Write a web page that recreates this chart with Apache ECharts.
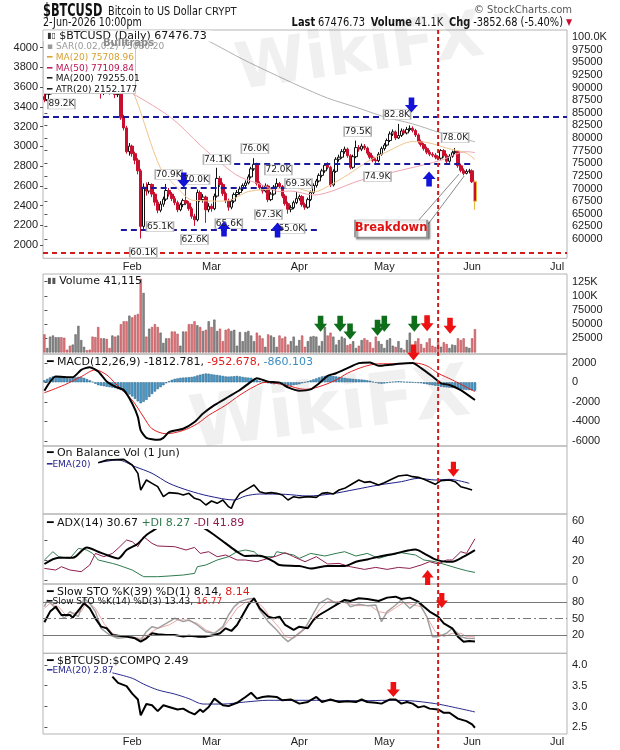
<!DOCTYPE html>
<html><head><meta charset="utf-8">
<script src="https://cdn.jsdelivr.net/npm/echarts@6/dist/echarts.min.js"></script>
<style>html,body{margin:0;padding:0;background:#fff}#c{width:620px;height:750px}</style>
</head><body><div id="c"></div>
<script>
// ---- axis / calendar ----
const monthNames = ['Feb','Mar','Apr','May','Jun','Jul'];
const monthStartDays = [31,59,90,120,151,181];           // day index from 1-Jan-2026
const mainPriceTicks = [60000,62500,65000,67500,70000,72500,75000,77500,80000,82500,85000,87500,90000,92500,95000,97500,100000];
const mainLeftTicks = [2000,2200,2400,2600,2800,3000,3200,3400,3600,3800,4000];
const volumeTicks = [25000,50000,75000,100000,125000];
const macdTicks = [-6000,-4000,-2000,0,2000];
const adxTicks = [0,20,40,60];
const stoTicks = [20,50,80];
const ratioTicks = [2.5,3.0,3.5,4.0];

// ---- daily BTC candles (thousands USD), 1-Jan .. 2-Jun ----
const opens = [88.2,87.6,88.7,90.0,90.6,91.4,93.8,93.7,91.3,91.0,90.5,90.8,91.1,91.4,95.3,96.9,95.6,95.5,95.1,93.6,92.5,89.0,89.8,89.6,89.5,89.8,88.6,88.9,84.0,82.0,77.3,78.4,76.9,75.6,73.5,62.5,70.3,69.5,70.8,68.9,67.3,65.7,66.9,67.9,69.6,68.9,68.0,67.2,65.8,66.8,67.6,67.1,66.0,64.5,63.8,69.2,67.8,68.3,65.8,66.5,66.0,68.5,72.0,70.8,69.0,67.6,66.3,67.5,68.8,69.2,69.9,70.6,71.1,72.3,73.9,74.8,71.0,70.2,69.5,70.5,67.8,68.9,70.3,71.0,70.4,68.5,67.0,65.9,66.2,67.2,68.0,68.4,66.8,66.3,67.8,69.2,70.6,71.5,72.6,73.5,74.6,74.2,70.7,73.4,75.8,76.2,77.3,77.8,76.5,74.2,76.3,78.1,77.8,78.4,78.0,77.0,76.2,75.6,75.5,76.8,77.9,78.6,79.5,80.8,81.2,80.0,80.5,81.4,81.0,81.7,81.9,81.5,80.6,79.3,78.7,77.9,77.2,76.8,76.6,76.2,76.0,77.5,76.5,75.4,76.4,77.1,77.3,74.5,73.6,73.0,73.4,73.5,71.33];
const highs = [88.9,89.2,90.4,91.1,91.9,94.5,94.8,94.0,91.8,91.5,91.3,91.7,92.0,95.8,97.8,97.2,96.1,95.9,95.4,94.0,92.8,90.3,90.2,90.1,90.4,90.0,89.6,89.4,84.6,82.4,79.0,78.7,77.3,76.0,73.9,71.0,71.2,71.3,71.0,69.3,67.8,67.5,68.4,70.9,70.1,69.3,68.5,67.6,67.2,68.0,70.0,67.5,66.4,65.0,69.8,69.6,68.9,68.6,67.1,67.0,69.0,74.1,72.5,71.2,69.4,68.0,67.9,69.2,69.7,70.4,71.0,71.6,72.8,74.3,76.0,75.1,71.4,70.6,71.0,70.8,69.3,70.7,72.0,71.3,70.7,68.9,67.4,66.7,67.6,69.3,68.8,68.7,67.2,68.2,69.6,71.0,71.9,73.0,73.9,75.0,75.2,74.5,73.8,76.2,76.7,77.8,78.3,78.1,76.8,76.7,79.5,78.6,78.9,78.8,78.3,77.3,76.6,76.0,77.2,78.3,79.0,79.9,81.3,81.7,81.5,82.8,81.9,81.8,82.2,82.5,82.3,81.8,80.9,79.7,79.0,78.3,77.6,77.2,77.0,76.6,77.8,77.8,76.9,76.8,77.5,78.0,77.5,74.9,74.0,73.8,73.9,73.8,71.6];
const lows = [87.1,87.3,88.5,89.6,90.2,91.0,93.0,90.9,90.2,89.2,90.0,90.3,90.6,91.2,95.0,95.1,94.9,94.6,93.1,92.0,87.8,88.5,88.9,88.6,89.0,87.9,88.1,83.6,81.5,76.9,76.5,76.3,74.8,72.8,60.1,62.0,68.6,69.0,68.3,66.6,65.1,65.3,66.4,67.5,68.4,67.5,66.7,65.3,65.5,66.3,66.7,65.6,64.0,62.6,63.5,67.3,67.2,63.2,65.3,65.4,65.7,68.2,70.3,68.5,67.1,65.6,65.9,67.1,68.3,68.8,69.5,70.2,70.8,72.0,73.5,70.6,69.8,69.0,69.2,67.3,67.5,68.6,69.9,70.0,68.1,66.6,65.0,65.3,65.9,66.9,67.6,66.4,65.8,66.0,67.5,68.9,70.2,71.2,72.2,73.1,73.8,70.3,70.4,73.1,75.3,75.9,76.9,76.1,73.8,73.9,76.0,77.3,77.4,77.6,76.6,75.8,75.2,74.9,75.2,76.5,77.5,78.3,79.2,80.4,79.6,79.8,80.2,80.6,80.7,81.3,81.1,80.2,78.9,78.3,77.5,76.8,76.4,76.2,75.8,75.6,75.7,76.1,74.7,75.1,76.1,76.8,74.1,73.2,72.6,72.8,73.0,71.1,65.8];
const closes = [87.6,88.7,90.0,90.6,91.4,93.8,93.7,91.3,91.0,90.5,90.8,91.1,91.4,95.3,96.9,95.6,95.5,95.1,93.6,92.5,89.0,89.8,89.6,89.5,89.8,88.6,88.9,84.0,82.0,77.3,78.4,76.9,75.6,73.5,62.5,70.3,69.5,70.8,68.9,67.3,65.7,66.9,67.9,69.6,68.9,68.0,67.2,65.8,66.8,67.6,67.1,66.0,64.5,63.8,69.2,67.8,68.3,65.8,66.5,66.0,68.5,72.0,70.8,69.0,67.6,66.3,67.5,68.8,69.2,69.9,70.6,71.1,72.3,73.9,74.8,71.0,70.2,69.5,70.5,67.8,68.9,70.3,71.0,70.4,68.5,67.0,65.9,66.2,67.2,68.0,68.4,66.8,66.3,67.8,69.2,70.6,71.5,72.6,73.5,74.6,74.2,70.7,73.4,75.8,76.2,77.3,77.8,76.5,74.2,76.3,78.1,77.8,78.4,78.0,77.0,76.2,75.6,75.5,76.8,77.9,78.6,79.5,80.8,81.2,80.0,80.5,81.4,81.0,81.7,81.9,81.5,80.6,79.3,78.7,77.9,77.2,76.8,76.6,76.2,76.0,77.5,76.5,75.4,76.4,77.1,77.3,74.5,73.6,73.0,73.4,73.5,71.33,67.48];
// volume, thousands
const volumes = [32,8,28,30,27,27,27,26,5,12,14,32,47,22,10,4,5,28,27,45,25,25,24,8,30,28,30,50,55,55,65,62,66,68,130,105,28,42,45,50,45,35,17,25,25,37,37,33,12,37,37,50,50,55,48,45,38,40,55,45,58,38,42,20,40,42,38,40,12,36,20,36,38,30,20,35,30,25,10,32,30,27,10,30,25,28,14,20,28,12,22,30,10,20,28,29,28,12,20,45,30,35,28,14,22,28,25,13,15,20,8,12,22,25,22,18,8,28,20,15,8,22,25,12,10,20,8,5,22,35,10,20,25,15,8,18,25,12,10,20,10,18,15,8,14,13,25,22,25,10,8,25,41.115];

// moving averages (thousands USD) read at sample days
const ma20Days = [0,10,20,27,30,32,41,47,52,55,60,65,72,83,87,95,101,107,114,121,130,136,142,149,152];
const ma20Values = [89.0,89.6,91.8,91.3,89.6,88.2,74.0,70.1,67.7,67.6,67.5,67.6,69.4,70.0,70.3,69.3,70.7,72.7,75.3,77.3,79.3,79.0,78.0,77.0,75.71];
const ma50Days = [0,15,25,31,45,55,63,69,77,83,87,95,112,134,140,149,152];
const ma50Values = [89.8,90.2,90.4,88.85,83.9,78.6,74.7,72.3,70.7,69.4,69.5,68.7,71.7,74.7,75.6,77.3,77.11];
const ma200Days = [40,50,55,60,70,80,90,100,110,120,130,140,152];
const ma200Values = [104.0,101.2,100.0,98.6,95.6,92.9,90.3,87.9,86.1,84.2,82.8,81.0,79.26];

// MACD
const macdDays = [0,4,10,13,16,19,22,25,28,31,33,34,36,40,42,44,49,53,56,60,65,69,73,75,79,83,86,90,94,97,100,103,107,111,115,118,122,125,130,133,137,140,143,147,152];
const macdValues = [-862,586,517,1276,1552,1104,69,-448,-793,-2173,-3553,-4933,-5692,-5900,-5692,-5106,-4761,-4071,-3208,-2346,-1483,-793,69,414,69,-35,-517,-862,-724,-104,655,931,1449,1966,2035,1690,1794,1897,1966,1449,586,-104,-276,-793,-1813];
const signalDays = [0,7,13,18,22,25,31,35,38,43,49,54,58,64,69,74,78,85,92,97,103,107,113,118,125,131,135,139,144,152];
const signalValues = [-1070,-276,586,1276,759,-104,-1829,-3553,-4761,-5279,-4933,-4244,-3381,-2346,-1311,-449,0,-276,-724,-449,242,931,1621,1897,1897,1966,1690,931,242,-953];
const histValues = [200,350,500,600,620,600,550,450,400,380,420,500,560,540,450,330,200,50,-150,-300,-350,-400,-450,-500,-550,-600,-700,-800,-950,-1100,-1250,-1450,-1700,-1950,-2150,-2000,-1800,-1500,-1200,-950,-700,-500,-300,-100,100,250,350,400,450,480,500,520,550,600,700,780,850,900,880,820,780,750,700,650,600,580,600,620,650,600,550,500,480,450,350,250,150,50,-50,-100,-150,-200,-150,-100,-200,-250,-300,-350,-300,-250,-200,-100,0,100,200,300,400,500,600,650,680,700,650,600,550,500,450,400,380,350,320,300,280,250,200,150,50,-50,-120,-150,-120,-80,0,50,80,100,80,50,20,0,-20,-50,-80,-100,-150,-200,-250,-300,-350,-400,-450,-500,-520,-550,-580,-600,-650,-700,-750,-780,-800,-830,-860];

// On Balance Volume (relative units) and its EMA
const obvDays = [19,22,28,31,33,34,36,38,40,42,44,47,49,51,53,55,57,59,61,63,65,66,67,69,72,74,76,78,80,82,84,86,88,90,93,96,98,100,102,104,106,108,111,113,115,118,120,122,125,128,130,132,134,136,138,140,143,145,147,149,151];
const obvValues = [154,162,164,147,122,72,102,92,82,52,64,62,57,62,47,42,27,39,32,42,22,17,37,62,77,87,67,62,64,62,57,42,52,49,52,50,62,64,60,72,77,87,102,95,97,87,94,102,114,117,112,110,104,97,89,100,102,97,82,77,72];
const obvEmaDays = [19,26,32,38,44,51,58,67,71,76,85,93,101,110,118,126,132,138,143,150];
const obvEmaValues = [154,162,142,122,92,70,54,42,54,60,59,54,60,74,87,97,107,102,104,92];

// ADX
const adxDays = [0,5,10,15,19,22,26,29,33,36,40,44,48,51,56,60,64,68,71,76,81,83,90,94,100,106,110,114,118,124,128,131,134,138,142,144,148,152];
const adxValues = [16.7,23,23,33.3,29,25.7,22.3,30.7,37,45.7,53,60,63,58,53,45.7,37.3,29,24.7,25,19,15.7,14.7,12.3,14.7,14.7,19,21.3,24,27.3,30,31.3,27.3,21.3,19,19,24,30.67];
const pdiDays = [0,3,5,9,12,15,17,19,24,26,31,35,40,44,49,53,54,57,61,65,68,71,74,76,81,82,88,90,94,99,103,106,110,114,118,122,126,131,134,138,142,146,149,152];
const pdiValues = [20.7,29,24,22.3,32.3,30.7,27.3,20.7,17.3,15.7,10.7,4,4,4.7,5.7,7.3,14,15.7,20.7,24,29,30.7,29,24,24,29,25.7,22.3,27.3,24.7,27.3,29,24.7,27.3,22.3,25.7,28,25.7,20.7,19,15.7,12.3,10,8.27];
const mdiDays = [0,4,6,9,13,16,18,21,24,26,29,31,33,35,38,40,46,50,53,55,58,61,64,68,71,75,79,82,85,88,92,96,100,104,108,113,117,121,125,129,133,136,139,142,144,147,149,152];
const mdiValues = [12.3,10.7,14,10.7,9,15.7,27.3,24,27.3,32.3,40.7,39,34,44,37.3,34.7,34,30.7,33.3,27.3,29,24,25.7,20.7,20.7,19,22.3,24.7,28,24,19,24,16.7,17.3,14,11.3,13.3,11.3,13.3,12.3,15.7,19,16.7,20.7,20.7,29,27.3,41.89];

// Slow stochastics
const sto39Days = [0,2,4,6,9,10,14,16,18,20,22,24,26,29,32,34,36,38,40,43,46,49,51,54,57,60,62,64,66,68,70,72,74,76,79,81,83,85,88,90,93,95,97,100,103,106,108,111,114,118,121,124,126,129,132,134,136,139,141,144,146,148,150,152];
const sto39Values = [43.3,62.9,72,56.7,56.7,51.9,78.2,69,50.6,35.3,32.3,20,18.8,17,13.9,7.8,13.9,23.1,21.2,20,20,17,18.8,17,17,20,23.1,32.3,27.4,38.4,56.7,75.1,87.3,69,53.7,50.6,53.7,38.4,29.2,35.3,32.3,47.6,56.7,65.9,75.1,84.3,82.4,87.3,86.1,82.4,88.6,90.4,86.1,88.6,81.2,72,62.9,53.7,41.4,32.3,17,7.8,9,8.14];
const sto14Days = [0,1,4,7,9,12,14,16,18,20,23,26,31,34,36,38,40,43,46,49,51,54,57,60,63,65,67,69,72,74,76,79,82,84,86,89,92,94,97,100,103,106,108,111,114,117,119,121,124,126,129,132,135,137,139,142,144,147,149,152];
const sto14Values = [72,84.3,69,50.6,62.9,53.7,87.3,78.2,62.9,32.3,20,13.9,17,10.8,26.1,35.3,32.3,41.4,50.6,44.5,47.6,38.4,26.1,23.1,35.3,56.7,72,81.2,86.1,87.3,65.9,44.5,29.2,17,7.8,20,32.3,50.6,78.2,87.3,78.2,84.3,72,76.3,73.9,75.1,44.5,62.9,75.1,84.3,69,81.2,53.7,17,17,23.1,32.3,17,13.9,13.43];
const stoDDays = [0,2,5,8,10,13,15,18,21,24,27,31,35,38,40,44,47,50,54,57,60,63,66,68,71,74,77,80,83,85,88,91,94,97,100,104,107,110,115,118,121,124,127,130,133,135,138,141,144,147,149,152];
const stoDValues = [69,78.2,72,53.7,59.8,62.9,81.2,69,41.4,23.1,17,15.1,13.9,26.1,32.3,38.4,47.6,47.6,41.4,29.2,23.1,32.3,53.7,69,80,84.3,72,50.6,32.3,17,13.9,26.1,41.4,65.9,81.2,81.2,78.2,73.9,73.9,62.9,59.8,70.2,80,75.1,72,53.7,26.1,17,23.1,23.1,17,16.77];

// $BTCUSD:$COMPQ ratio
const ratioDays = [24,26,29,31,33,34,36,38,40,42,44,47,49,51,53,55,56,58,60,63,65,68,71,73,75,77,79,82,84,87,90,93,96,98,101,104,107,110,112,114,117,119,122,124,126,128,130,132,134,136,139,141,143,146,149,151,152];
const ratioValues = [3.72,3.57,3.49,3.31,3.17,2.79,3.06,3.03,2.89,3.03,2.99,2.93,2.95,2.87,2.81,2.93,2.87,2.99,3.19,3.03,3.01,3.09,3.23,3.33,3.19,3.23,3.25,3.23,3.15,3.17,3.07,3.11,3.23,3.11,3.17,3.11,3.13,3.11,3.17,3.11,3.09,3.07,3.17,3.17,3.07,3.11,3.07,2.98,3.01,2.95,2.93,2.85,2.85,2.71,2.65,2.57,2.49];
const ratioEmaDays = [24,31,35,40,46,51,56,63,71,79,88,96,104,113,121,129,138,144,152];
const ratioEmaValues = [3.81,3.68,3.54,3.40,3.30,3.19,3.06,3.06,3.11,3.15,3.15,3.15,3.14,3.14,3.15,3.14,3.07,2.99,2.87];

// annotations
const priceLabelText = ['89.2K','82.8K','79.5K','78.0K','74.9K','76.0K','74.1K','72.0K','70.9K','70.0K','69.3K','67.3K','65.1K','65.6K','65.0K','62.6K','60.1K'];
const priceLabelDay = [6,124.5,110.6,145,117.6,74.3,60.9,82.6,43.9,53.5,89.7,79.1,40.8,65.1,87.1,53,34.9];
const priceLabelAt = [86.73,84.65,81.29,80.10,72.38,77.92,75.74,73.67,72.78,71.79,70.99,64.86,62.48,63.07,62.08,59.9,57.39];
const blueArrowDay = [129.6,49.2,63.4,82.3,135.8];
const blueArrowAt = [86.54,71.69,61.98,61.79,71.88];
const blueArrowDir = ['down','down','up','up','up'];
const levelLines = [ // [fromDay, toDay, price], blue dashed
  [-0.5,184.5,84200],[67,151,74900],[34,87,70150],[27,97,61900]];
const redLevel = 57250;
const redLineDay = 139;
const volGreenArrowDay = [97.5,104.4,107.9,117.6,120,130.6];
const volGreenArrowAt = [50.6,50.6,37,43.6,50.6,50.6];
const volRedArrowDay = [135.1,143.2,130.3];
const volRedArrowAt = [51.5,47,0];

// ---------------- build ----------------
const FONT = 'DejaVu Sans';
const AXFONT = 'Liberation Sans, Arial, sans-serif';
const NARROW = 'Liberation Sans Narrow, DejaVu Sans Condensed, Arial Narrow, sans-serif';
const XMIN = -0.5, XMAX = 184.5;
const pair = (d, v, k) => d.map((x, i) => [x, v[i] * (k || 1)]);
const arrowPath = 'path://M4,0L10,0L10,8L14,8L7,16L0,8L4,8Z';

const gridDefs = [
  [30, 228.3], [274, 80], [354, 92], [446, 68], [514, 70], [584, 69.3], [653.3, 80.7]
];
const grids = gridDefs.map(g => ({left: 43, right: 53, top: g[0], height: g[1], show: true,
  borderColor: '#b4b4b4', borderWidth: 1, backgroundColor: 'transparent', containLabel: false, outerBoundsMode: 'none'}));

function xAx(gi, labels, margin) {
  return {type: 'value', gridIndex: gi, min: XMIN, max: XMAX,
    axisLine: {show: false}, axisTick: {show: false}, splitLine: {show: false},
    axisLabel: labels ? {show: true, customValues: monthStartDays, margin: margin,
      formatter: v => monthNames[monthStartDays.indexOf(v)] || '',
      fontSize: 11, fontFamily: AXFONT, color: '#222'} : {show: false}};
}
function yAx(gi, min, max, ticks, fmt, pos) {
  return {type: 'value', gridIndex: gi, min: min, max: max, position: pos || 'right',
    axisLine: {show: false}, splitLine: {show: false},
    axisTick: ticks ? {show: true, customValues: ticks, length: 3, lineStyle: {color: '#555'}} : {show: false},
    axisLabel: ticks ? {show: true, customValues: ticks, formatter: fmt || (v => String(v)), margin: 5,
      fontSize: 11, fontFamily: AXFONT, color: '#222'} : {show: false}};
}

const candleData = closes.map((c, i) => {
  const item = {value: [i, opens[i] * 1000, c * 1000, lows[i] * 1000, highs[i] * 1000]};
  if (i === closes.length - 1) item.itemStyle = {borderColor0: '#e6b83a'};
  return item;
});
const volData = volumes.map((v, i) => ({value: [i, v * 1000],
  itemStyle: closes[i] >= opens[i] ? {color: '#8c8c8c', borderColor: '#4a4a4a'} : {color: '#e07c80', borderColor: '#a83a40'}}));
const histData = histValues.map((v, i) => [i, v]);

const lineS = (name, xi, yi, data, color, width, extra) => Object.assign({
  name: name, type: 'line', xAxisIndex: xi, yAxisIndex: yi, data: data, showSymbol: false, symbol: 'none',
  lineStyle: {color: color, width: width}, silent: true, animation: false, z: 3}, extra || {});

function arrowItem(day, val, dir, color, size) {
  return {coord: [day, val], symbol: arrowPath, symbolSize: size || [12, 15], symbolRotate: dir === 'up' ? 180 : 0,
    itemStyle: {color: color}, label: {show: false}};
}

const mainMarkPoints = priceLabelText.map((t, i) => ({
  coord: [priceLabelDay[i], priceLabelAt[i] * 1000], value: t, symbol: 'rect', symbolSize: [27, 10],
  itemStyle: {color: '#fff', borderColor: '#b0b0b0', borderWidth: 1},
  label: {show: true, position: 'inside', formatter: t, fontSize: 9, fontFamily: FONT, color: '#222'}
})).concat(blueArrowDay.map((d, i) => arrowItem(d, blueArrowAt[i] * 1000, blueArrowDir[i], '#1414d8', [13, 15])))
  .concat([{coord: [122.4, 62080], symbol: 'rect', symbolSize: [72, 17],
    itemStyle: {color: '#fff', borderColor: '#999', borderWidth: 1, shadowColor: 'rgba(0,0,0,0.45)', shadowBlur: 2, shadowOffsetX: 2, shadowOffsetY: 2},
    label: {show: true, position: 'inside', formatter: 'Breakdown', fontSize: 11.5, fontWeight: 'bold', fontFamily: FONT, color: '#e01010'}}]);

const mainMarkLines = levelLines.map(l => [{coord: [l[0], l[2]], lineStyle: {color: '#1a1a9c', width: 2, type: [6, 4]}}, {coord: [l[1], l[2]]}])
  .concat([[{coord: [XMIN, redLevel], lineStyle: {color: '#d41c1c', width: 2, type: [5, 4]}}, {coord: [XMAX, redLevel]}],
    [{coord: [131.9, 63570], lineStyle: {color: '#8a8a8a', width: 1, type: 'solid'}}, {coord: [146.4, 72870]}],
    [{coord: [135.5, 62970], lineStyle: {color: '#8a8a8a', width: 1, type: 'solid'}}, {coord: [148.2, 72480]}]]);

const series = [
  {name: 'BTC', type: 'candlestick', xAxisIndex: 0, yAxisIndex: 0, data: candleData, barWidth: 3, silent: true, animation: false, z: 2,
    itemStyle: {color: '#ffffff', color0: '#c8102e', borderColor: '#111', borderColor0: '#c8102e', borderWidth: 1}},
  lineS('MA20', 0, 0, pair(ma20Days, ma20Values, 1000), '#f0c48a', 1, {smooth: 0.3}),
  lineS('MA50', 0, 0, pair(ma50Days, ma50Values, 1000), '#f0a4b0', 1, {smooth: 0.3}),
  lineS('MA200', 0, 0, pair(ma200Days, ma200Values, 1000), '#b0b0b0', 1, {smooth: 0.3, z: 4,
    markLine: {silent: true, symbol: ['none', 'none'], label: {show: false}, animation: false, data: mainMarkLines},
    markPoint: {silent: true, animation: false, data: mainMarkPoints}}),
  {name: 'Volume', type: 'bar', xAxisIndex: 1, yAxisIndex: 2, data: volData, barWidth: 2.2, silent: true, animation: false,
    itemStyle: {borderWidth: 0.5},
    markPoint: {silent: true, animation: false, data:
      volGreenArrowDay.map((d, i) => arrowItem(d, volGreenArrowAt[i] * 1000, 'down', '#0f6e1a', [13, 16]))
      .concat(volRedArrowDay.map((d, i) => arrowItem(d, volRedArrowAt[i] * 1000, 'down', '#ee1111', [13, 16])))}},
  {name: 'Hist', type: 'bar', xAxisIndex: 2, yAxisIndex: 3, data: histData, barWidth: 2.4, silent: true, animation: false,
    itemStyle: {color: '#4b9ccc', borderColor: '#1e5a80', borderWidth: 0.5}},
  lineS('Signal', 2, 3, pair(signalDays, signalValues), '#e52020', 1, {smooth: 0.3}),
  lineS('MACD', 2, 3, pair(macdDays, macdValues), '#000', 2, {smooth: 0.2}),
  lineS('OBV EMA', 3, 4, pair(obvEmaDays, obvEmaValues), '#1e1e8a', 1, {smooth: 0.3}),
  lineS('OBV', 3, 4, pair(obvDays, obvValues), '#000', 1.6, {
    markPoint: {silent: true, animation: false, data: [arrowItem(144.4, 134, 'down', '#ee1111', [12, 15])]}}),
  lineS('+DI', 4, 5, pair(pdiDays, pdiValues), '#2e7a4e', 1),
  lineS('-DI', 4, 5, pair(mdiDays, mdiValues), '#8e1f50', 1),
  lineS('ADX', 4, 5, pair(adxDays, adxValues), '#000', 2, {smooth: 0.3,
    markPoint: {silent: true, animation: false, data: [arrowItem(135.3, 3.2, 'up', '#ee1111', [12, 15])]}}),
  lineS('%D3', 5, 6, pair(stoDDays, stoDValues), '#f2a6a6', 1),
  lineS('%K14', 5, 6, pair(sto14Days, sto14Values), '#a0a0a0', 1.5),
  lineS('%K39', 5, 6, pair(sto39Days, sto39Values), '#000', 2, {
    markLine: {silent: true, symbol: ['none', 'none'], label: {show: false}, animation: false, data: [
      {yAxis: 80, lineStyle: {color: '#777', width: 1, type: 'solid'}},
      {yAxis: 20, lineStyle: {color: '#777', width: 1, type: 'solid'}},
      {yAxis: 50, lineStyle: {color: '#777', width: 1, type: [8, 3, 2, 3]}}]},
    markPoint: {silent: true, animation: false, data: [arrowItem(140.3, 83.3, 'down', '#ee1111', [12, 15])]}}),
  lineS('Ratio EMA', 6, 7, pair(ratioEmaDays, ratioEmaValues), '#2a2a90', 1, {smooth: 0.3}),
  lineS('Ratio', 6, 7, pair(ratioDays, ratioValues), '#000', 2, {
    markPoint: {silent: true, animation: false, data: [arrowItem(123.2, 3.41, 'down', '#ee1111', [13, 15])]}})
];

const option = {
  animation: false,
  backgroundColor: '#fff',
  grid: grids,
  xAxis: [xAx(0, true, 3), xAx(1), xAx(2), xAx(3), xAx(4), xAx(5), xAx(6, true, 2)],
  yAxis: [
    yAx(0, 56180, 101390, mainPriceTicks, v => v >= 100000 ? (v / 1000).toFixed(1) + 'K' : String(v)),
    yAx(0, 1867, 4179, mainLeftTicks, v => String(v), 'left'),
    yAx(1, -2600, 138400, volumeTicks, v => v >= 100000 ? (v / 1000) + 'K' : String(v)),
    yAx(2, -6530, 2900, macdTicks),
    yAx(3, 0, 204, null),
    yAx(4, -3.3, 66.7, adxTicks),
    yAx(5, -13.6, 113.6, stoTicks),
    yAx(6, 2.34, 4.28, ratioTicks, v => v.toFixed(1))
  ],
  series: series
};

const chart = echarts.init(document.getElementById('c'), null, {width: 620, height: 750});
chart.setOption(option);

// ---------- text overlays ----------
const vx = chart.convertToPixel({xAxisIndex: 0}, redLineDay);
const T = (x, y, text, rich, extra, sx) => Object.assign({type: 'text', x: x, y: y, z: 120, scaleX: sx || 1,
  style: Object.assign({text: text, rich: rich, verticalAlign: 'middle', font: '10.5px ' + FONT, fill: '#111'}, extra || {})});
const R = (x, y, w, h, fill, stroke) => ({type: 'rect', z: 110, shape: {x: x, y: y, width: w, height: h},
  style: {fill: fill, stroke: stroke || null, lineWidth: 1}});
const rs = (size, color, weight, fam) => ({fontSize: size, fill: color, fontWeight: weight || 'normal', fontFamily: fam || FONT});
const P = 11, S = 9;   // primary / secondary legend sizes

const graphics = [
  // header
  T(43, 11, '{a|$BTCUSD}', {a: rs(18, '#111', 'bold', NARROW)}, null, 0.7),
  T(108, 12, '{b|Bitcoin to US Dollar}', {b: rs(12.5, '#111', 'normal', NARROW)}, null, 0.86),
  T(205, 12, '{c|CRYPT}', {c: rs(10, '#222', 'normal', FONT)}),
  T(43, 23, '{b|2-Jun-2026 10:00pm}', {b: rs(12.5, '#111', 'normal', NARROW)}, null, 0.85),
  T(572, 10, '{a|© StockCharts.com}', {a: rs(10, '#555', 'normal', FONT)}, {align: 'right'}),
  T(572, 23, '{b|Last} {n|67476.73}  {b|Volume} {n|41.1K}  {b|Chg} {n|-3852.68 (-5.40%)} {r|▼}', {
    b: rs(12.5, '#111', 'bold', NARROW), n: rs(12.5, '#111', 'normal', NARROW), r: rs(9, '#c8102e')}, {align: 'right'}, 0.875),
  // main legend
  R(43.5, 30.5, 92, 63, '#fff', '#c8c8c8'),
  R(43.5, 30.5, 168, 11, '#fff', null),
  T(47, 36, '{i|▮▯} {t|$BTCUSD (Daily) 67476.73}', {i: rs(8, '#333'), t: rs(11, '#111')}),
  T(47, 47, '{t|▪ SAR(0.02,0.2) 75080.20}', {t: rs(S, '#9a9a9a')}),
  T(47, 57.7, '{m|━} {t|MA(20) 75708.96}', {m: rs(S, '#d8a030'), t: rs(S, '#d8a030')}),
  T(47, 68.3, '{m|━} {t|MA(50) 77109.84}', {m: rs(S, '#b8154f'), t: rs(S, '#b8154f')}),
  T(47, 79, '{m|━} {t|MA(200) 79255.01}', {m: rs(S, '#111'), t: rs(S, '#111')}),
  T(47, 89.3, '{m|━} {t|ATR(20) 2152.177}', {m: rs(S, '#111'), t: rs(S, '#111')}),
  T(103, 43.5, '{t|Bulltraps}', {t: rs(10, '#8c8c8c', 'bold')}),
  // volume legend
  T(47, 281, '{i|▮▮} {t|Volume 41,115}', {i: rs(8, '#555'), t: rs(P, '#111')}),
  // MACD legend
  T(47, 362, '{k|━} {t|MACD(12,26,9) -1812.781,} {r|-952.678,} {s|-860.103}', {k: rs(P, '#000'), t: rs(P, '#111'), r: rs(P, '#e01e1e'), s: rs(P, '#3a8cc0')}),
  // OBV legend
  T(47, 453.5, '{k|━} {t|On Balance Vol (1 Jun)}', {k: rs(P, '#000'), t: rs(P, '#111')}),
  T(47, 465, '{k|━}{t|EMA(20)}', {k: rs(S, '#1e1e8a'), t: rs(S, '#1e1e8a')}),
  // ADX legend
  R(44, 516, 210, 13, '#fff', null),
  T(47, 523, '{k|━} {t|ADX(14) 30.67} {g|+DI 8.27} {p|-DI 41.89}', {k: rs(P, '#000'), t: rs(P, '#111'), g: rs(P, '#2e7a4e'), p: rs(P, '#8e1f50')}),
  // STO legend
  T(47, 592, '{k|━} {t|Slow STO %K(39) %D(1) 8.14,} {r|8.14}', {k: rs(P, '#000'), t: rs(P, '#111'), r: rs(P, '#e01e1e')}),
  T(47, 602, '{k|━}{t|Slow STO %K(14) %D(3) 13.43,} {r|16.77}', {k: rs(S, '#000'), t: rs(S, '#111'), r: rs(S, '#e01e1e')}),
  // ratio legend
  T(47, 661, '{k|━} {t|$BTCUSD:$COMPQ 2.49}', {k: rs(P, '#000'), t: rs(P, '#111')}),
  T(47, 671, '{k|━}{t|EMA(20) 2.87}', {k: rs(S, '#2a2a90'), t: rs(S, '#2a2a90')}),
  // watermark
  {type: 'text', x: 360, y: 55, rotation: 0.14, z: 130, style: {text: 'WikiFX', font: 'bold 64px ' + FONT, fill: 'rgba(120,105,105,0.10)', align: 'center', verticalAlign: 'middle'}},
  {type: 'text', x: 330, y: 412, rotation: 0.12, z: 130, style: {text: 'WikiFX', font: 'bold 72px ' + FONT, fill: 'rgba(120,105,105,0.10)', align: 'center', verticalAlign: 'middle'}},
  // red vertical line
  {type: 'line', z: 115, shape: {x1: vx, y1: 30, x2: vx, y2: 750}, style: {stroke: '#d01c1c', lineWidth: 2, lineDash: [4, 3]}}
];
chart.setOption({graphic: graphics});
</script>
</body></html>
